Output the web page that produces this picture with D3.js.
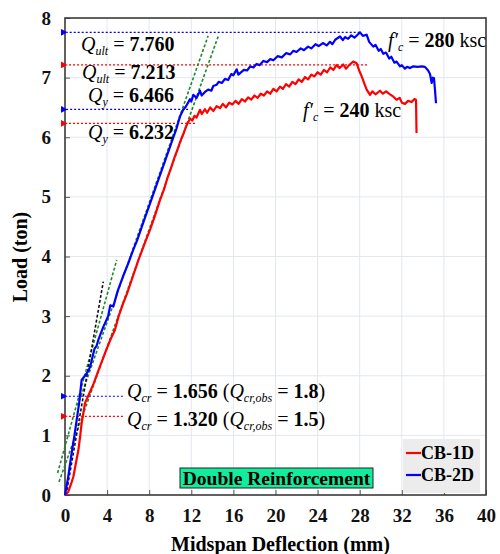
<!DOCTYPE html>
<html>
<head>
<meta charset="utf-8">
<script src="https://cdn.jsdelivr.net/npm/d3@7"></script>
<style>
body { margin: 0; background: #fff; }
text { font-family: "Liberation Serif", "Times New Roman", serif; }
</style>
</head>
<body>
<script>
// load-deflection data (mm, ton)
var cb1d = [
	[0,0],[0.3,0.05],[0.6,0.2],[0.8,0.31],[1.05,0.55],[1.27,0.75],[1.45,1.0],[1.58,1.2],
	[1.75,1.38],[1.9,1.54],[2.2,1.66],[2.7,1.86],[3.2,2.1],[3.8,2.38],[4.3,2.6],[4.75,2.77],
	[5.1,3.0],[5.5,3.2],[5.9,3.38],[6.34,3.61],[7.0,3.95],[7.7,4.28],[8.1,4.46],[8.5,4.66],
	[9.03,4.95],[9.4,5.12],[9.7,5.3],[10.1,5.5],[10.4,5.66],[10.7,5.8],[11.0,5.95],[11.3,6.08],
	[11.5,6.18],[11.72,6.26],[11.9,6.31],[12.1,6.28],[12.3,6.36],[12.5,6.33],[12.83,6.46],
	[13.0,6.39],[13.3,6.47],[13.5,6.41],[13.8,6.5],[14.1,6.44],[14.4,6.52],[14.73,6.49],
	[15.0,6.56],[15.3,6.5],[15.6,6.58],[15.9,6.55],[16.2,6.61],[16.5,6.56],[16.8,6.64],
	[17.1,6.6],[17.4,6.67],[17.7,6.63],[18.0,6.7],[18.3,6.66],[18.6,6.73],[18.9,6.7],
	[19.2,6.77],[19.5,6.73],[19.8,6.81],[20.1,6.77],[20.43,6.85],[20.7,6.81],[21.0,6.89],
	[21.3,6.85],[21.6,6.93],[21.9,6.89],[22.2,6.97],[22.5,6.93],[22.8,7.01],[23.1,6.97],
	[23.4,7.05],[23.7,7.02],[24.0,7.09],[24.3,7.05],[24.6,7.13],[24.9,7.09],[25.2,7.17],
	[25.5,7.13],[25.8,7.21],[26.1,7.16],[26.44,7.22],[26.7,7.15],[27.0,7.21],[27.39,7.27],
	[27.71,7.24],[27.95,7.12],[28.19,7.02],[28.4,6.92],[28.66,6.8],[28.98,6.71],[29.2,6.77],
	[29.5,6.72],[29.93,6.78],[30.2,6.73],[30.5,6.77],[30.88,6.72],[31.2,6.68],[31.5,6.63],
	[31.8,6.66],[32.0,6.58],[32.3,6.56],[32.6,6.61],[32.94,6.59],[33.2,6.64],[33.35,6.63],
	[33.4,6.07]
];
var cb2d = [
	[0,0],[0.3,0.3],[0.63,0.7],[0.9,1.0],[1.11,1.26],[1.35,1.55],[1.58,1.93],[1.9,2.0],
	[2.22,2.08],[2.4,2.16],[2.8,2.45],[3.0,2.5],[3.2,2.62],[3.64,2.82],[4.1,3.0],[4.3,3.18],
	[4.59,3.16],[5.0,3.42],[5.5,3.66],[6.02,3.89],[6.5,4.12],[6.87,4.28],[7.5,4.6],[8.2,4.95],
	[8.8,5.25],[9.5,5.6],[10.2,5.95],[10.6,6.15],[10.93,6.35],[11.2,6.45],[11.5,6.52],
	[11.88,6.64],[12.0,6.6],[12.19,6.71],[12.5,6.66],[12.83,6.78],[12.98,6.7],[13.3,6.76],
	[13.6,6.8],[13.9,6.78],[14.09,6.86],[14.4,6.88],[14.6,6.93],[14.9,6.91],[15.2,6.98],
	[15.5,6.96],[15.8,7.06],[16.0,7.04],[16.31,7.14],[16.47,7.05],[16.8,7.1],[17.0,7.13],
	[17.3,7.12],[17.6,7.19],[17.9,7.17],[18.2,7.23],[18.5,7.21],[18.84,7.28],[19.2,7.26],
	[19.5,7.31],[19.8,7.29],[20.2,7.36],[20.6,7.34],[21.0,7.41],[21.4,7.39],[21.7,7.45],
	[22.0,7.43],[22.4,7.49],[22.7,7.46],[23.1,7.52],[23.4,7.49],[23.8,7.56],[24.1,7.53],
	[24.5,7.58],[24.86,7.54],[25.18,7.6],[25.4,7.56],[25.7,7.64],[26.13,7.69],[26.4,7.63],
	[26.6,7.68],[26.9,7.65],[27.2,7.71],[27.5,7.67],[27.8,7.72],[28.03,7.76],[28.3,7.7],
	[28.66,7.72],[28.9,7.6],[29.29,7.52],[29.5,7.55],[29.8,7.45],[30.0,7.48],[30.24,7.4],
	[30.5,7.42],[30.8,7.32],[31.0,7.35],[31.3,7.25],[31.5,7.27],[31.83,7.19],[32.0,7.21],
	[32.3,7.15],[32.5,7.18],[32.78,7.16],[33.1,7.19],[33.5,7.18],[33.9,7.19],[34.2,7.18],
	[34.5,7.12],[34.68,7.06],[34.84,6.91],[34.95,7.0],[35.06,6.99],[35.15,6.8],[35.25,6.57]
];

// dashed stiffness / tangent lines
var blackLine = [[0.1,0],[3.64,3.58]];
var greenLines = [
	[[-0.7,0.37],[4.91,3.94]],
	[[-0.57,0.22],[14.57,7.7]],
	[[1.2,1.5],[13.6,7.7]]
];

// horizontal marker lines: load value, end deflection, series
var markLoads = [7.76, 7.213, 6.466, 6.232, 1.656, 1.32];
var markEnds = [28.0, 28.7, 11.7, 12.35, 5.5, 5.5];
var markColors = ["#0000ff", "#ff0000", "#0000ff", "#ff0000", "#0000ff", "#ff0000"];

var xTicks = [0, 4, 8, 12, 16, 20, 24, 28, 32, 36, 40];
var yTicks = [0, 1, 2, 3, 4, 5, 6, 7, 8];
var seriesNames = ["CB-1D", "CB-2D"];
var seriesColors = ["#ff0000", "#0000ff"];

var W = 500, H = 554;
var m = {left: 65, top: 18, right: 486, bottom: 495};

var svg = d3.select("body").append("svg")
	.attr("width", W)
	.attr("height", H);

var x = d3.scaleLinear().domain([0, 40]).range([m.left, m.right]);
var y = d3.scaleLinear().domain([0, 8]).range([m.bottom, m.top]);

// grid
svg.append("g").selectAll("line")
	.data(xTicks.slice(1, -1))
	.enter().append("line")
	.attr("x1", function(d){ return x(d); }).attr("x2", function(d){ return x(d); })
	.attr("y1", m.top).attr("y2", m.bottom)
	.style("stroke", "#e3e7ee").style("stroke-width", 1);
svg.append("g").selectAll("line")
	.data(yTicks.slice(1, -1))
	.enter().append("line")
	.attr("y1", function(d){ return y(d); }).attr("y2", function(d){ return y(d); })
	.attr("x1", m.left).attr("x2", m.right)
	.style("stroke", "#e3e7ee").style("stroke-width", 1);

// axes
var xAxis = svg.append("g")
	.attr("transform", "translate(0," + m.bottom + ")")
	.call(d3.axisBottom(x).tickValues(xTicks).tickSizeInner(-5).tickSizeOuter(0).tickPadding(14));
var yAxis = svg.append("g")
	.attr("transform", "translate(" + m.left + ",0)")
	.call(d3.axisLeft(y).tickValues(yTicks).tickSizeInner(-5).tickSizeOuter(0).tickPadding(14));
[xAxis, yAxis].forEach(function(a){
	a.select(".domain").remove();
	a.selectAll(".tick line").style("stroke", "#555");
	a.selectAll("text")
		.style("font-family", "'Liberation Serif', serif")
		.style("font-weight", "bold")
		.style("font-size", "19px")
		.style("fill", "#111");
});

svg.append("rect")
	.attr("x", m.left).attr("y", m.top)
	.attr("width", m.right - m.left).attr("height", m.bottom - m.top)
	.style("fill", "none").style("stroke", "#3a3a3a").style("stroke-width", 1.6);

// axis titles
svg.append("text")
	.attr("x", (m.left + m.right) / 2 + 5).attr("y", 551)
	.attr("text-anchor", "middle")
	.style("font-weight", "bold").style("font-size", "20px")
	.text("Midspan Deflection (mm)");
svg.append("text")
	.attr("transform", "translate(27,257) rotate(-90)")
	.attr("text-anchor", "middle")
	.style("font-weight", "bold").style("font-size", "20px")
	.text("Load (ton)");

// arrow heads
seriesColors.forEach(function(c, i){
	svg.append("defs").append("marker")
		.attr("id", "arr" + i)
		.attr("viewBox", "0 0 10 10")
		.attr("refX", 1).attr("refY", 5)
		.attr("markerWidth", 7).attr("markerHeight", 7)
		.attr("markerUnits", "userSpaceOnUse")
		.attr("orient", "auto")
		.append("path").attr("d", "M10,0 L0,5 L10,10 z").style("fill", c);
});

// marker lines
svg.append("g").selectAll("line")
	.data(markLoads)
	.enter().append("line")
	.attr("x1", function(d, i){ return x(markEnds[i]); })
	.attr("x2", m.left + 2)
	.attr("y1", function(d){ return y(d); })
	.attr("y2", function(d){ return y(d); })
	.attr("marker-end", function(d, i){ return "url(#arr" + (markColors[i] == "#ff0000" ? 0 : 1) + ")"; })
	.style("stroke", function(d, i){ return markColors[i]; })
	.style("stroke-width", 1.2)
	.style("stroke-dasharray", "2,2");

var line = d3.line()
	.x(function(d){ return x(d[0]); })
	.y(function(d){ return y(d[1]); });

// dashed stiffness lines
greenLines.forEach(function(g){
	svg.append("path").attr("d", line(g))
		.style("fill", "none").style("stroke", "#1a8a2a")
		.style("stroke-width", 1.6).style("stroke-dasharray", "3,2");
});
svg.append("path").attr("d", line(blackLine))
	.style("fill", "none").style("stroke", "#111")
	.style("stroke-width", 1.6).style("stroke-dasharray", "3,2");

// curves
[cb1d, cb2d].forEach(function(s, i){
	svg.append("path").attr("d", line(s))
		.style("fill", "none")
		.style("stroke", seriesColors[i])
		.style("stroke-width", 2.2)
		.style("stroke-linejoin", "round");
});

// annotations
function qLabel(px, py, sub, val, extra){
	var t = svg.append("text").attr("x", px).attr("y", py).style("font-size", "20px");
	t.append("tspan").style("font-style", "italic").text("Q");
	t.append("tspan").attr("dy", 4).style("font-style", "italic").style("font-size", "12px").text(sub);
	t.append("tspan").attr("dy", -4).text(" = ");
	t.append("tspan").style("font-weight", "bold").text(val);
	if (extra) {
		t.append("tspan").text(" (");
		t.append("tspan").style("font-style", "italic").text("Q");
		t.append("tspan").attr("dy", 4).style("font-style", "italic").style("font-size", "12px").text(extra[0]);
		t.append("tspan").attr("dy", -4).text(" = ");
		t.append("tspan").style("font-weight", "bold").text(extra[1]);
		t.append("tspan").text(")");
	}
}
qLabel(81, 51, "ult", "7.760");
qLabel(82, 79, "ult", "7.213");
qLabel(88, 102, "y", "6.466");
qLabel(88, 139, "y", "6.232");
qLabel(127, 398, "cr", "1.656", ["cr,obs", "1.8"]);
qLabel(127, 426, "cr", "1.320", ["cr,obs", "1.5"]);

function fcLabel(px, py, val){
	var t = svg.append("text").attr("x", px).attr("y", py).style("font-size", "20px");
	t.append("tspan").style("font-style", "italic").text("f\u2032");
	t.append("tspan").attr("dy", 4).style("font-style", "italic").style("font-size", "12px").text("c");
	t.append("tspan").attr("dy", -4).text(" = ");
	t.append("tspan").style("font-weight", "bold").text(val);
	t.append("tspan").text(" ksc");
}
fcLabel(388, 47, "280");
fcLabel(303, 117, "240");

// box label
svg.append("rect")
	.attr("x", 180).attr("y", 468).attr("width", 193).attr("height", 20)
	.style("fill", "#12ec9c").style("stroke", "#222").style("stroke-width", 1);
svg.append("text")
	.attr("x", 276.5).attr("y", 484.5)
	.attr("text-anchor", "middle")
	.style("font-weight", "bold").style("font-size", "19.5px")
	.text("Double Reinforcement");

// legend
svg.append("rect")
	.attr("x", 403).attr("y", 439).attr("width", 77).attr("height", 54)
	.style("fill", "#ececec");
var leg = svg.append("g").selectAll("g")
	.data(seriesNames)
	.enter().append("g")
	.attr("transform", function(d, i){ return "translate(406," + (453 + i * 22) + ")"; });
leg.append("line")
	.attr("x1", 0).attr("x2", 15)
	.style("stroke", function(d, i){ return seriesColors[i]; })
	.style("stroke-width", 2.2);
leg.append("text")
	.attr("x", 15).attr("y", 6)
	.style("font-weight", "bold").style("font-size", "18px")
	.text(function(d){ return d; });
</script>
</body>
</html>
